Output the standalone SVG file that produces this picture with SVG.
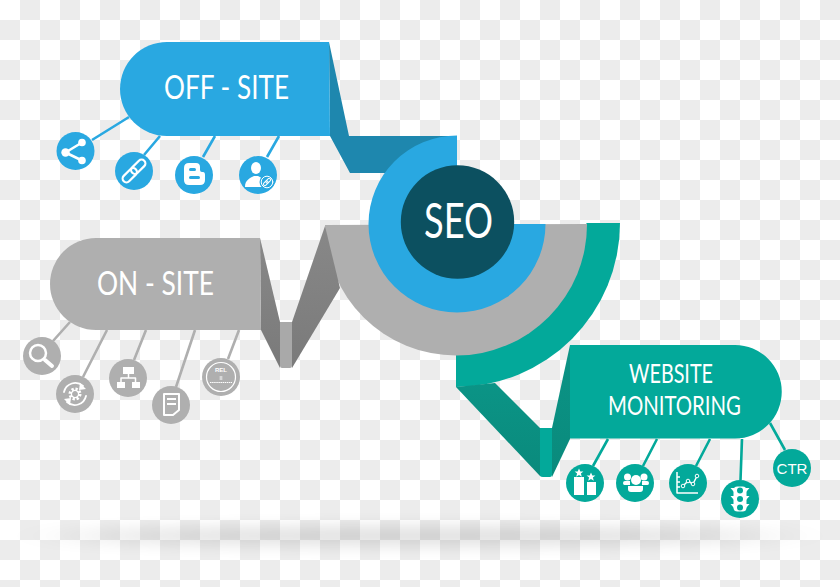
<svg xmlns="http://www.w3.org/2000/svg" width="840" height="587" viewBox="0 0 840 587">
<defs>
<pattern id="checker" width="40" height="40" patternUnits="userSpaceOnUse">
<rect width="40" height="40" fill="#ffffff"/>
<rect x="20" y="0" width="20" height="20" fill="#ececec"/>
<rect x="0" y="20" width="20" height="20" fill="#ececec"/>
</pattern>
<filter id="soft" x="-30%" y="-400%" width="160%" height="900%"><feGaussianBlur stdDeviation="45 8"/></filter>
<linearGradient id="foldGrey" x1="0" y1="0" x2="0" y2="1"><stop offset="0" stop-color="#888888"/><stop offset="1" stop-color="#7a7a7a"/></linearGradient>
<linearGradient id="foldTeal" x1="0" y1="0" x2="0" y2="1"><stop offset="0" stop-color="#0b9486"/><stop offset="1" stop-color="#0a8a7c"/></linearGradient>
<path id="star" d="M0,-4.6 L1.3,-1.4 4.4,-1.4 1.9,.6 2.8,3.8 0,2 -2.8,3.8 -1.9,.6 -4.4,-1.4 -1.3,-1.4 Z"/>
</defs>
<style>
.w{fill:#fff}
.ws{fill:none;stroke:#fff;stroke-linecap:round;stroke-linejoin:round}
.blue{fill:#29a8e1}.grey{fill:#afafaf}.teal{fill:#03a99a}
.lb{stroke:#29a8e1}.lg{stroke:#afafaf}.lt{stroke:#03a99a}
.l{stroke-width:2.6;fill:none}
text{fill:#fff;font-family:Lato,"Open Sans","Liberation Sans",sans-serif;font-weight:400}
</style>
<rect id="background" width="840" height="587" fill="url(#checker)"/>
<ellipse id="shadow" cx="420" cy="536" rx="350" ry="9" fill="#000" opacity="0.13" filter="url(#soft)"/>

<g id="connectors">
<path class="l lb" d="M92,140L129,117M144,155L160,136M203,157L215,136M267,157L279,136"/>
<path class="l lg" d="M53,341L70,322M83,377L107,330M134,360L146,330M176,387L195,330M228,359L239,330"/>
<path class="l lt" d="M593,466L608,439M643,466L657,439M696,466L710,439M740.5,480L742,439M785,450L770,423"/>
</g>

<g id="rings">
<path class="teal" d="M620,223A164,164 0 0 1 456,387L456,340L587,223Z"/>
<path class="grey" d="M325,225A131,131 0 0 0 587,224Z"/>
</g>

<g id="off-site">
<path fill="#1e87ae" d="M329,42L349,136L457,136L457,173L350,173L330,136Z"/>
<path class="blue" d="M167,42H329L330,136H167A47,47 0 0 1 167,42Z"/>
<text x="164" y="99" font-size="33" textLength="125" lengthAdjust="spacingAndGlyphs">OFF - SITE</text>
</g>

<g id="on-site">
<path fill="url(#foldGrey)" d="M260,238L280,322V368L261,330Z"/>
<path fill="url(#foldGrey)" d="M325,226L292,322V368L340,288Z"/>
<path fill="#a9a9a9" d="M280,322H292V366Q292,368 290,368H282Q280,368 280,366Z"/>
<path class="grey" d="M96,238H260L261,330H96A46,46 0 0 1 96,238Z"/>
<text x="97" y="295" font-size="33" textLength="117" lengthAdjust="spacingAndGlyphs">ON - SITE</text>
</g>

<g id="website-monitoring">
<path fill="url(#foldTeal)" d="M456,387L495,383L540,428V476Z"/>
<path fill="url(#foldTeal)" d="M570,345L552,428V477L570,439Z"/>
<path class="teal" d="M540,428H552V475Q552,477 550,477H543Q541,477 540,476Z"/>
<path class="teal" d="M570,345H735A46.500,46.500 0 0 1 735,438.500H570Z"/>
<text x="629" y="383" font-size="26.500" textLength="84" lengthAdjust="spacingAndGlyphs">WEBSITE</text>
<text x="608" y="415" font-size="26.500" textLength="133" lengthAdjust="spacingAndGlyphs">MONITORING</text>
</g>

<g id="seo">
<path class="blue" d="M457,135.500A88.500,88.500 0 1 0 545.500,224H457Z"/>
<circle cx="457.500" cy="222" r="56.700" fill="#0c5060"/>
<text x="424" y="237.500" font-size="48" textLength="69" lengthAdjust="spacingAndGlyphs">SEO</text>
</g>

<g id="icon-share" transform="translate(75.500,151)">
<circle class="blue" r="19"/>
<path class="ws" stroke-width="2.600" d="M6.500,-8.500L-10,1.500L6.500,9.500"/>
<circle class="w" cx="-10" cy="1.500" r="4.200"/><circle class="w" cx="6.500" cy="-8.500" r="3.800"/><circle class="w" cx="6.500" cy="9.500" r="3.800"/>
</g>
<g id="icon-link" transform="translate(134,171)">
<circle class="blue" r="19"/>
<g transform="rotate(-45)" class="ws" stroke-width="2.200">
<rect x="-14.500" y="-3.800" width="17" height="7.600" rx="3.800"/>
<rect x="-2.500" y="-3.800" width="17" height="7.600" rx="3.800"/>
</g>
</g>
<g id="icon-blogger" transform="translate(194,175)">
<circle class="blue" r="19"/>
<path class="w" d="M-5,-12H2Q6,-12 6,-8V-5Q6,-3 8,-3H9Q11,-3 11,0V5Q11,10 6,10H-5Q-10,10 -10,5V-7Q-10,-12 -5,-12Z"/>
<rect class="blue" x="-5" y="-7" width="7" height="3" rx="1.500"/>
<rect class="blue" x="-5" y="1" width="11" height="3" rx="1.500"/>
</g>
<g id="icon-user" transform="translate(258,175)">
<circle class="blue" r="19"/>
<ellipse class="w" cx="-2" cy="-7" rx="5" ry="6"/>
<path class="w" d="M-13,12C-13,5 -8,3 -4,1H0C4,3 7,5 7,12Z"/>
<circle class="blue" cx="9" cy="7" r="7.500"/>
<circle class="ws" cx="9" cy="7" r="5.800" stroke-width="1"/>
<g transform="translate(9,7) rotate(-45)" class="ws" stroke-width="1"><rect x="-4.500" y="-1.500" width="5.500" height="3" rx="1.500"/><rect x="-1" y="-1.500" width="5.500" height="3" rx="1.500"/></g>
</g>

<g id="icon-search" transform="translate(42,356)">
<circle class="grey" r="19"/>
<circle class="ws" cx="-4" cy="-3" r="8" stroke-width="2.500"/>
<path class="ws" stroke-width="4" d="M3,4L10,10"/>
</g>
<g id="icon-gear" transform="translate(75,394)">
<circle class="grey" r="19"/>
<circle class="ws" r="5" stroke-width="3" stroke-dasharray="2.200 1.700" style="stroke-linecap:butt"/>
<circle class="ws" r="3.600" stroke-width="1.300"/>
<path class="ws" stroke-width="1.800" d="M-11,-2A11.500,11.500 0 0 1 8,-8M11,2A11.500,11.500 0 0 1 -8,8"/>
<path class="w" d="M5,-11L11,-5L4,-4ZM-5,11L-11,5L-4,4Z"/>
</g>
<g id="icon-sitemap" transform="translate(128,378)">
<circle class="grey" r="19"/>
<rect class="w" x="-5" y="-11" width="11" height="7"/>
<path class="ws" stroke-width="1.500" style="stroke-linecap:butt" d="M0.500,-4V0M-7,4V0H7.500V4"/>
<rect class="w" x="-11" y="4" width="8" height="6"/>
<rect class="w" x="4" y="4" width="8" height="6"/>
</g>
<g id="icon-doc" transform="translate(171,405)">
<circle class="grey" r="19"/>
<path class="ws" stroke-width="2" d="M-7,-11H8V5L2,10H-7Z"/>
<path class="ws" stroke-width="2" style="stroke-linecap:butt" d="M-4,-6H5M-4,-1H5"/>
</g>
<g id="icon-rel" transform="translate(221,377)">
<circle class="grey" r="19"/>
<circle class="ws" r="14.500" stroke-width="1.200"/>
<text x="0" y="-5" font-size="6" text-anchor="middle" style="font-family:'Liberation Sans',sans-serif;font-weight:700">REL</text>
<path class="ws" stroke-width="1" d="M-1,0H1M-1,2H1"/>
<path class="ws" stroke-width="1" stroke-dasharray="1.500 .6" style="stroke-linecap:butt" d="M-11,5.500H11"/>
</g>

<g id="icon-gift" transform="translate(585,483)">
<circle class="teal" r="19"/>
<rect class="w" x="-11" y="-6" width="10" height="18"/>
<rect class="w" x="2" y="-1" width="9" height="13"/>
<use href="#star" class="w" x="-6" y="-10"/>
<use href="#star" class="w" x="6" y="-6"/>
</g>
<g id="icon-people" transform="translate(635,483)">
<circle class="teal" r="19"/>
<circle class="w" cx="1" cy="-3" r="5"/><circle class="w" cx="-7.500" cy="-6" r="3.500"/><circle class="w" cx="9" cy="-6" r="3.500"/>
<path class="w" d="M-10,-2H-5V2H-10.500Q-12,2 -12,0Q-12,-2 -10,-2ZM7,-2H12Q14,-2 14,0Q14,2 12.500,2H7Z"/>
<path class="w" d="M-7,3H8V6Q8,9 5,9H-4Q-7,9 -7,6Z"/>
</g>
<g id="icon-chart" transform="translate(688,483)">
<circle class="teal" r="19"/>
<path class="ws" stroke-width="1.500" style="stroke-linecap:butt" d="M-11,-11V10H10M-11,-6H-8M-11,-1H-8M-11,4H-8"/>
<path class="ws" stroke-width="1.500" d="M-5,3L0,-2L5,1L9,-7"/>
<circle cx="-5" cy="3" r="1.800" fill="#03a99a" stroke="#fff"/><circle cx="0" cy="-2" r="1.800" fill="#03a99a" stroke="#fff"/><circle cx="5" cy="1" r="1.800" fill="#03a99a" stroke="#fff"/><circle cx="9" cy="-7" r="1.800" fill="#03a99a" stroke="#fff"/>
</g>
<g id="icon-light" transform="translate(740,499)">
<circle class="teal" r="19"/>
<rect class="w" x="-6.500" y="-12.500" width="13" height="25" rx="4"/>
<path class="w" d="M-6,-11L-9.500,-11L-6,-7ZM6,-11L9.500,-11L6,-7ZM-6,-3L-9.500,-3L-6,1ZM6,-3L9.500,-3L6,1ZM-6,5L-9.500,5L-6,9ZM6,5L9.500,5L6,9Z"/>
<circle class="teal" cy="-8.500" r="3"/><circle class="teal" cy="0" r="3"/><circle class="teal" cy="8.500" r="3"/>
</g>
<g id="icon-ctr" transform="translate(792,468)">
<circle class="teal" r="19"/>
<text x="0" y="6" font-size="15" text-anchor="middle" textLength="31" lengthAdjust="spacingAndGlyphs" style="font-family:'Liberation Sans',sans-serif;font-weight:400">CTR</text>
</g>
</svg>
